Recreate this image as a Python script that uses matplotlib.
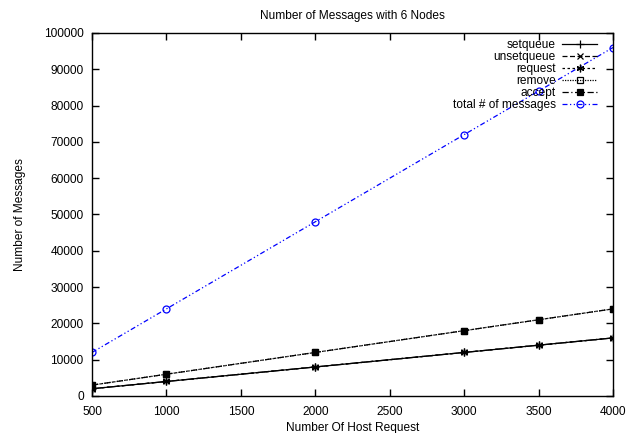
import matplotlib
matplotlib.use("Agg")
import matplotlib.pyplot as plt

plt.rcParams['font.family'] = ['Liberation Sans', 'DejaVu Sans']

hosts = [500, 1000, 2000, 3000, 3500, 4000]
setqueue = [2000, 4000, 8000, 12000, 14000, 16000]
unsetqueue = [2000, 4000, 8000, 12000, 14000, 16000]
request = [2000, 4000, 8000, 12000, 14000, 16000]
remove = [3000, 6000, 12000, 18000, 21000, 24000]
accept = [3000, 6000, 12000, 18000, 21000, 24000]
total = [12000, 24000, 48000, 72000, 84000, 96000]

xticks = [500, 1000, 1500, 2000, 2500, 3000, 3500, 4000]
yticks = list(range(0, 100001, 10000))

fs = 8.6
fig = plt.figure(figsize=(6.44, 4.33), dpi=100)
ax = fig.add_axes([92/644, 1 - 396/433, (613-92)/644, (396-33)/433])

lw = 0.9
ax.plot(hosts, setqueue, color='black', lw=lw, ls='-', marker='+', ms=5.5, mew=0.9, label='setqueue')
ax.plot(hosts, unsetqueue, color='black', lw=lw, ls=(0, (4, 2)), marker='x', ms=4.5, mew=0.9, label='unsetqueue')
ax.plot(hosts, request, color='black', lw=lw, ls=(0, (2, 2)), marker=(6, 2, 0), ms=5.5, mew=0.9, label='request')
ax.plot(hosts, remove, color='black', lw=lw, ls=(0, (1, 1)), marker='s', ms=4.5, mfc='none', mew=0.9, label='remove')
ax.plot(hosts, accept, color='black', lw=lw, ls=(0, (5, 2, 1, 2)), marker='s', ms=4.8, mew=0.9, label='accept')
ax.plot(hosts, total, color='blue', lw=lw, ls=(0, (4, 2, 1, 2, 1, 2)), marker='o', ms=5, mfc='none', mec='blue', mew=0.9, label='total # of messages')

ax.set_xlim(500, 4000)
ax.set_ylim(0, 100000)
ax.set_xticks(xticks)
ax.set_yticks(yticks)
ax.tick_params(direction='in', top=True, right=True, length=5, labelsize=fs, width=1)
ax.tick_params(axis='x', pad=7)
ax.tick_params(axis='y', pad=6)
for s in ax.spines.values():
    s.set_linewidth(1)

ax.set_title('Number of Messages with 6 Nodes', fontsize=fs, pad=10)
ax.set_xlabel('Number Of Host Request', fontsize=fs, labelpad=3)
ax.set_ylabel('Number of Messages', fontsize=fs, labelpad=13)

ax.legend(loc='upper right', frameon=False, markerfirst=False, fontsize=fs,
          handlelength=2.9, labelspacing=0.0, borderpad=0, borderaxespad=0,
          handletextpad=0.55,
          bbox_to_anchor=(597/644, 1 - 39/433), bbox_transform=fig.transFigure)

fig.savefig('out.png', dpi=100)
